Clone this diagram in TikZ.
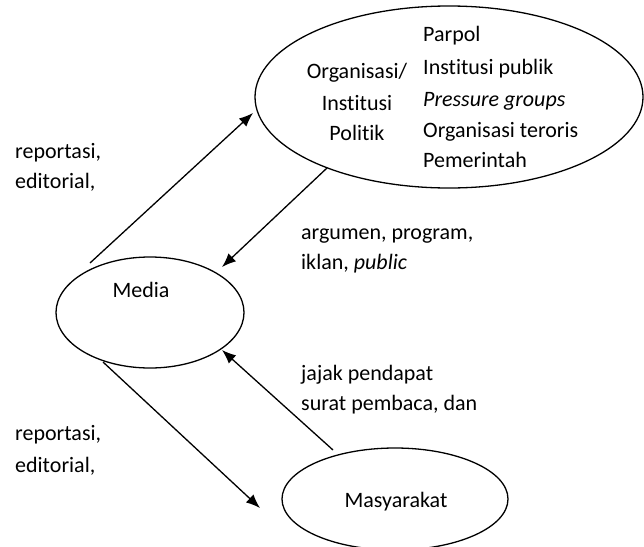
\documentclass[tikz,border=0pt]{standalone}
\usepackage{fontspec}
\setmainfont{Carlito}[Ligatures=NoCommon]
\usetikzlibrary{shapes.geometric,arrows.meta,calc}
\begin{document}
\begin{tikzpicture}[x=1pt,y=-1pt,
  ell/.style={draw,ellipse,line width=1.3pt,inner sep=0pt},
  lbl/.style={anchor=base west,inner sep=0pt,font=\fontsize{22}{26}\selectfont},
  ctr/.style={anchor=base,inner sep=0pt,font=\fontsize{22}{26}\selectfont},
  arr/.style={line width=1.3pt,-{Latex[length=14pt,width=11pt]}}]
\useasboundingbox (0,0) rectangle (644,546);
\clip (0,0) rectangle (644,546);
% ellipses
\node[ell,minimum width=388pt,minimum height=182pt] (org) at (449,97) {};
\node[ell,minimum width=188pt,minimum height=111pt] (media) at (150,312.5) {};
\node[ell,minimum width=226pt,minimum height=102pt] (mas) at (395,499) {};
% texts in top ellipse
\node[ctr] (o1) at (357,78) {Organisasi/};
\node[ctr] (o2) at (357,110) {Institusi};
\node[ctr] (o3) at (357,140) {Politik};
\node[lbl] (p1) at (423,41.5) {Parpol};
\node[lbl] (p2) at (423,74) {Institusi publik};
\node[lbl] (p3) at (423,106) {\textit{Pressure groups}};
\node[lbl] (p4) at (423,137) {Organisasi teroris};
\node[lbl] (p5) at (423,167) {Pemerintah};
% other ellipse texts
\node[ctr] (mt) at (141,297) {Media};
\node[ctr] (st) at (396,507) {Masyarakat};
% labels
\node[lbl] (l1) at (15,158) {reportasi,};
\node[lbl] (l2) at (15,188) {editorial,};
\node[lbl] (a1) at (301,239) {argumen, program,};
\node[lbl] (a2) at (301,269) {iklan, \textit{public}};
\node[lbl] (j1) at (301,380) {jajak pendapat};
\node[lbl] (j2) at (301,410) {surat pembaca, dan};
\node[lbl] (r1) at (15,440) {reportasi,};
\node[lbl] (r2) at (15,472) {editorial,};
% arrows
\draw[arr] ($(media.center)+(-60,-49.5)$) -- ($(org.center)+(-196,16)$);
\draw[arr] ($(org.center)+(-122,71)$) -- ($(media.center)+(72,-45.5)$);
\draw[arr] ($(mas.center)+(-62,-49)$) -- ($(media.center)+(72,37.5)$);
\draw[arr] ($(media.center)+(-47,49.5)$) -- ($(mas.center)+(-135,9)$);
\end{tikzpicture}
\end{document}
